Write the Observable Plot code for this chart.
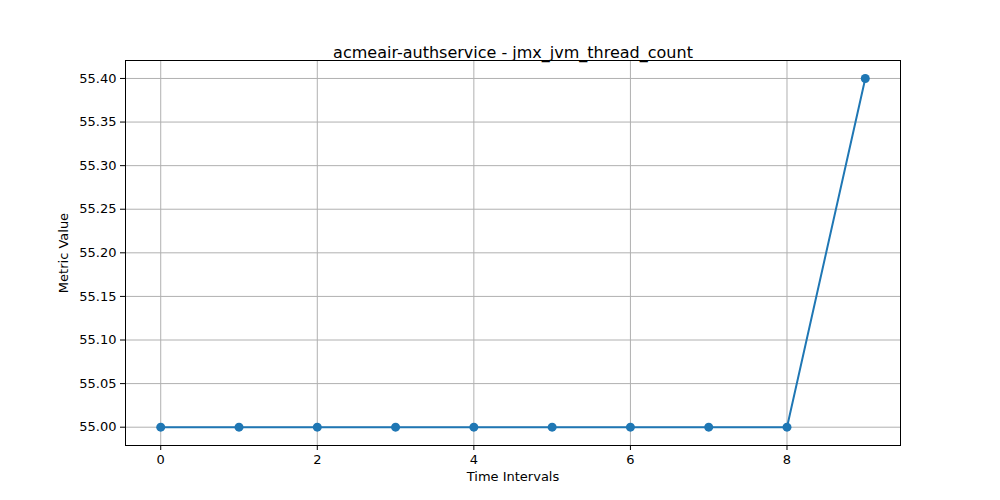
<!DOCTYPE html>
<html>
<head>
<meta charset="utf-8">
<script src="https://cdn.jsdelivr.net/npm/d3@7"></script>
<script src="https://cdn.jsdelivr.net/npm/@observablehq/plot@0.6"></script>
<style>body{margin:0;background:#fff}</style>
</head>
<body>
<div id="chart"></div>
<script>
const intervals = [0, 1, 2, 3, 4, 5, 6, 7, 8, 9];
const values = [55, 55, 55, 55, 55, 55, 55, 55, 55, 55.4];
const xTicks = [0, 2, 4, 6, 8];
const yTicks = [55.00, 55.05, 55.10, 55.15, 55.20, 55.25, 55.30, 55.35, 55.40];

const data = intervals.map((t, i) => ({t, v: values[i]}));

const chart = Plot.plot({
  width: 1000,
  height: 500,
  marginLeft: 125,
  marginRight: 100,
  marginTop: 60,
  marginBottom: 55,
  style: {fontFamily: "DejaVu Sans", fontSize: "13px", color: "black", background: "white"},
  x: {domain: [-0.45, 9.45], ticks: xTicks, label: null, tickSize: 5},
  y: {domain: [54.979, 55.4206], ticks: yTicks, tickFormat: d3.format(".2f"), label: null, tickSize: 5},
  marks: [
    Plot.gridX(xTicks, {stroke: "#b0b0b0", strokeOpacity: 1, strokeWidth: 1}),
    Plot.gridY(yTicks, {stroke: "#b0b0b0", strokeOpacity: 1, strokeWidth: 1}),
    Plot.axisX({ticks: xTicks, tickSize: 5, tickPadding: 4}),
    Plot.axisY({ticks: yTicks, tickFormat: d3.format(".2f"), tickSize: 5, tickPadding: 4}),
    Plot.frame({stroke: "black"}),
    Plot.line(data, {x: "t", y: "v", stroke: "#1f77b4", strokeWidth: 2}),
    Plot.dot(data, {x: "t", y: "v", fill: "#1f77b4", r: 4.5}),
    Plot.text(["acmeair-authservice - jmx_jvm_thread_count"], {frameAnchor: "top", dy: -14, fontSize: 16}),
    Plot.text(["Time Intervals"], {frameAnchor: "bottom", dy: 35, fontSize: 13}),
    Plot.text(["Metric Value"], {frameAnchor: "left", dx: -62, rotate: -90, textAnchor: "middle", fontSize: 13})
  ]
});
document.getElementById("chart").append(chart);
</script>
</body>
</html>
